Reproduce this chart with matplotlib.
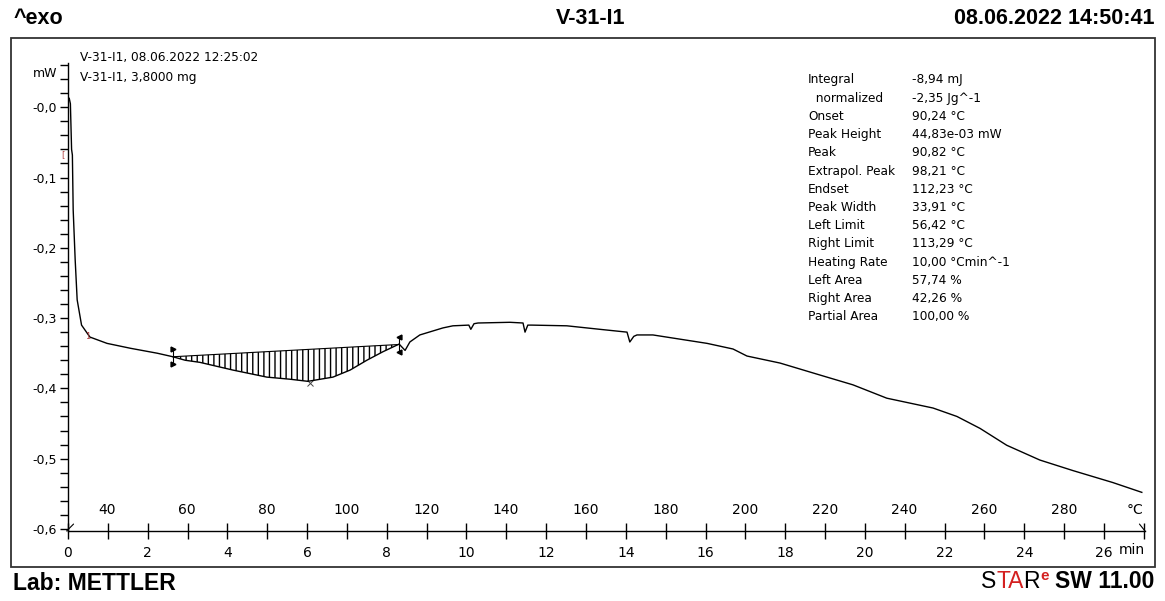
import numpy as np
import matplotlib
matplotlib.use("Agg")
import matplotlib.pyplot as plt
from matplotlib.ticker import MultipleLocator, FuncFormatter
from matplotlib.patches import Rectangle

# DSC curve: time in min, heat flow in mW
time_min = [0.0, 0.005, 0.03, 0.06, 0.09, 0.11, 0.13, 0.18, 0.23, 0.34,
            0.55, 0.98, 1.57, 2.24, 2.63, 2.94, 3.31, 4.14, 4.99, 5.57,
            6.02, 6.65, 7.08, 7.50, 7.90, 8.31, 8.41, 8.46, 8.58, 8.83,
            9.41, 9.66, 10.06, 10.11, 10.19, 10.29, 11.09, 11.42, 11.47, 11.54,
            11.64, 12.52, 13.35, 14.03, 14.10, 14.20, 14.28, 14.68, 15.36, 16.04,
            16.69, 17.04, 17.87, 18.87, 19.70, 20.55, 21.71, 22.31, 22.89, 23.56,
            24.39, 25.22, 26.22, 26.95]
heat_flow = [-0.064, 0.011, 0.013, 0.005, -0.060, -0.068, -0.146, -0.217, -0.274, -0.310,
             -0.327, -0.336, -0.343, -0.350, -0.355, -0.360, -0.363, -0.374, -0.384, -0.387,
             -0.390, -0.384, -0.374, -0.360, -0.348, -0.337, -0.343, -0.346, -0.334, -0.324,
             -0.314, -0.311, -0.310, -0.316, -0.308, -0.307, -0.306, -0.307, -0.320, -0.310,
             -0.310, -0.311, -0.316, -0.320, -0.334, -0.326, -0.324, -0.324, -0.330, -0.336,
             -0.344, -0.354, -0.364, -0.381, -0.395, -0.414, -0.428, -0.440, -0.457, -0.481,
             -0.502, -0.517, -0.534, -0.548]

start_temp = 30.1      # degC at t = 0
heating_rate = 10.0    # degC/min
temp_labels = [40, 60, 80, 100, 120, 140, 160, 180, 200, 220, 240, 260, 280]
time_labels = [0, 2, 4, 6, 8, 10, 12, 14, 16, 18, 20, 22, 24, 26]

left_limit = 56.42
right_limit = 113.29
peak_temp = 90.82

result_names = ["Integral", "  normalized", "Onset", "Peak Height", "Peak",
                "Extrapol. Peak", "Endset", "Peak Width", "Left Limit",
                "Right Limit", "Heating Rate", "Left Area", "Right Area",
                "Partial Area"]
result_values = ["-8,94 mJ", "-2,35 Jg^-1", "90,24 °C", "44,83e-03 mW",
                 "90,82 °C", "98,21 °C", "112,23 °C", "33,91 °C", "56,42 °C",
                 "113,29 °C", "10,00 °Cmin^-1", "57,74 %", "42,26 %",
                 "100,00 %"]

narrow = ["Liberation Sans Narrow", "DejaVu Sans Condensed", "DejaVu Sans"]


def t_of(temp):
    return (temp - start_temp) / heating_rate


W, H = 1165, 601
fig = plt.figure(figsize=(W / 100, H / 100), dpi=100)
fig.patch.set_facecolor("white")


def fx(px):
    return px / W


def fy(py):
    return 1 - py / H


ax = fig.add_axes([fx(68), fy(531), (1145 - 68) / W, (531 - 63) / H])
ax.set_xlim(0, 27.03)
ax.set_ylim(-0.603, 0.063)

# curve
ax.plot(time_min, heat_flow, color="black", lw=1.0, zorder=3)

# integration area with straight baseline
tl, tr = t_of(left_limit), t_of(right_limit)
bl = np.interp(tl, time_min, heat_flow)
br = np.interp(tr, time_min, heat_flow)
tt = np.linspace(tl, tr, 300)
curve = np.interp(tt, time_min, heat_flow)
base = bl + (br - bl) * (tt - tl) / (tr - tl)
plt.rcParams["hatch.linewidth"] = 1.0
ax.fill_between(tt, curve, base, facecolor="none", edgecolor="black",
                hatch="|||", lw=0, zorder=2)
ax.plot([tl, tr], [bl, br], color="black", lw=0.8, zorder=3)

# limit markers
ax.plot([tl, tl], [bl + 0.011, bl - 0.011], ls="none", marker=">", ms=3.5, color="black")
ax.plot([tl, tl], [bl + 0.011, bl - 0.011], color="black", lw=0.8)
ax.plot([tr, tr], [br + 0.011, br - 0.011], ls="none", marker="<", ms=3.5, color="black")
ax.plot([tr, tr], [br + 0.011, br - 0.011], color="black", lw=0.8)
tp = t_of(peak_temp)
ax.plot(tp, np.interp(tp, time_min, heat_flow) - 0.003, marker="x", ms=5,
        mew=0.7, color="#444444")

# red evaluation marks
ax.text(-0.12, -0.068, "[", color="#b04040", fontsize=6, ha="center",
        va="center", clip_on=False)
ax.text(0.5, -0.326, "1", color="#b04040", fontsize=6, ha="center",
        va="center")

# axes styling
for s in ["top", "right"]:
    ax.spines[s].set_visible(False)
ax.spines["left"].set_linewidth(1.0)
ax.spines["bottom"].set_linewidth(1.0)

ax.yaxis.set_major_locator(MultipleLocator(0.1))
ax.yaxis.set_minor_locator(MultipleLocator(0.02))
ax.yaxis.set_major_formatter(FuncFormatter(
    lambda v, p: "-" + f"{abs(v):.1f}".replace(".", ",")))
ax.tick_params(axis="y", which="both", direction="out", length=6, width=1,
               labelsize=9, pad=2)

ax.set_xticks(range(0, 28))
ax.set_xticklabels([str(t) if t in time_labels else "" for t in range(0, 28)],
                   family=narrow, fontsize=10)
ax.tick_params(axis="x", which="major", direction="inout", length=12, width=1, pad=5)

for T in temp_labels:
    ax.annotate(str(T), xy=(t_of(T), 0), xycoords=("data", "axes fraction"),
                xytext=(0, 15), textcoords="offset points", ha="center",
                va="center", fontsize=10, family=narrow)
ax.annotate("°C", xy=(1, 0), xycoords="axes fraction", xytext=(-7, 15),
            textcoords="offset points", ha="center", va="center", fontsize=10,
            family=narrow)
ax.annotate("min", xy=(1, 0), xycoords="axes fraction", xytext=(0, -14),
            textcoords="offset points", ha="right", va="center", fontsize=10,
            family=narrow)
ax.annotate("mW", xy=(0, 0.048), xycoords=("axes fraction", "data"),
            xytext=(-8, 0), textcoords="offset points", ha="right",
            va="center", fontsize=9)

# small axis-break strokes at both ends of the time axis
ax.annotate("", xy=(4, 5), xycoords="axes points", xytext=(-1, 0),
            textcoords="axes points",
            arrowprops=dict(arrowstyle="-", lw=0.8, color="black",
                            shrinkA=0, shrinkB=0))
ax.annotate("", xy=(1.0, 0.0), xycoords="axes fraction", xytext=(-4, 5),
            textcoords="offset points",
            arrowprops=dict(arrowstyle="-", lw=0.8, color="black",
                            shrinkA=0, shrinkB=0))

# sample info
fig.text(fx(80), fy(58), "V-31-I1, 08.06.2022 12:25:02", fontsize=8.7, va="center")
fig.text(fx(80), fy(77), "V-31-I1, 3,8000 mg", fontsize=8.7, va="center")

# evaluation table
for i, (n, v) in enumerate(zip(result_names, result_values)):
    y = 80 + i * 18.2
    fig.text(fx(808), fy(y), n, fontsize=8.7, va="center")
    fig.text(fx(912), fy(y), v, fontsize=8.7, va="center")

# frame
fig.add_artist(Rectangle((fx(11), fy(567)), (1155 - 11) / W, (567 - 38) / H,
                         transform=fig.transFigure, fill=False, lw=1.3,
                         edgecolor="#333333"))

# header / footer
hdr = dict(fontsize=15.5, weight="bold", family="Liberation Sans", va="center")
fig.text(fx(14), fy(18), "^exo", ha="left", **hdr)
fig.text(fx(591), fy(18), "V-31-I1", ha="center", **hdr)
fig.text(fx(1155), fy(18), "08.06.2022 14:50:41", ha="right", **hdr)
fig.text(fx(13), fy(583), "Lab: METTLER", ha="left", fontsize=16.5,
         weight="bold", family="Liberation Sans", va="center")

sw = fig.text(fx(1154), fy(582), "SW 11.00", ha="right", va="center",
              fontsize=16.5, weight="bold", family="Liberation Sans")
red = "#d42020"
ax.annotate("e", xy=(0, 1), xycoords=sw, xytext=(-4, 1), textcoords="offset points",
            ha="right", va="top", fontsize=11, weight="bold", color=red,
            family="Liberation Sans", annotation_clip=False)
r = ax.annotate("R", xy=(0, 0.5), xycoords=sw, xytext=(-10.5, 0),
                textcoords="offset points", ha="right", va="center",
                fontsize=16.5, family="Liberation Sans", annotation_clip=False)
ta = ax.annotate("TA", xy=(0, 0.5), xycoords=r, ha="right", va="center",
                 fontsize=16.5, family="Liberation Sans", color=red,
                 annotation_clip=False)
ax.annotate("S", xy=(0, 0.5), xycoords=ta, ha="right", va="center",
            fontsize=16.5, family="Liberation Sans", annotation_clip=False)

fig.savefig("out.png", dpi=100, facecolor="white")
